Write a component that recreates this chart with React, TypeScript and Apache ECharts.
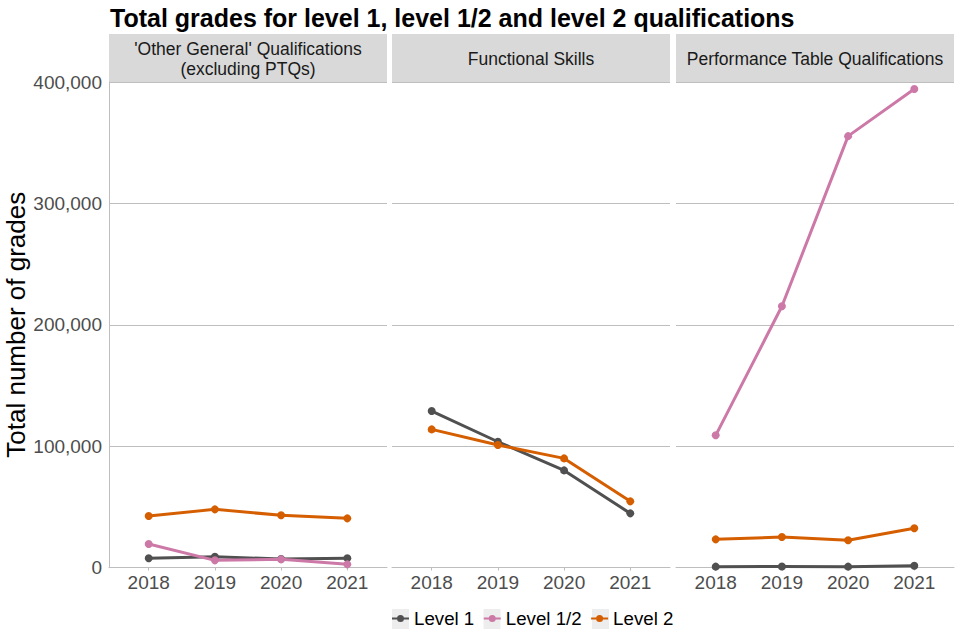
import React, { useEffect, useRef } from "react";
import * as echarts from "echarts";

const years = [2018, 2019, 2020, 2021];
const panelTitles = [
  "'Other General' Qualifications\n(excluding PTQs)",
  "Functional Skills",
  "Performance Table Qualifications",
];
const levelNames = ["Level 1", "Level 1/2", "Level 2"];
const levelColors = ["#505050", "#CC79A7", "#D55E00"];
const yTickStep = 100000;
const yMax = 400000;

const otherLevel1 = [7600, 8900, 7000, 7600];
const otherLevel12 = [19400, 5900, 6700, 2600];
const otherLevel2 = [42400, 47900, 43000, 40500];
const fsLevel1 = [128900, 103600, 80000, 44600];
const fsLevel2 = [113800, 100900, 89900, 54500];
const ptqLevel1 = [700, 800, 700, 1500];
const ptqLevel12 = [108900, 215200, 355400, 394200];
const ptqLevel2 = [23200, 25100, 22400, 32300];

const panelData: (number[] | null)[][] = [
  [otherLevel1, otherLevel12, otherLevel2],
  [fsLevel1, null, fsLevel2],
  [ptqLevel1, ptqLevel12, ptqLevel2],
];

const FONT = "'Liberation Sans', Arial, sans-serif";
const GRID = "#bebebe";

export default function App() {
  const ref = useRef<HTMLDivElement>(null);
  useEffect(() => {
    document.body.style.margin = "0";
    const chart = echarts.init(ref.current!, null, { renderer: "svg" });
    const panelLeft = [109, 392, 676];
    const panelWidth = 278;
    const top = 82;
    const height = 485.5;

    const grids = panelLeft.map((l) => ({ left: l, top, width: panelWidth, height }));
    const xAxes = panelLeft.map((_, i) => ({
      type: "value",
      gridIndex: i,
      min: 2017.4,
      max: 2021.6,
      axisLine: { show: true, lineStyle: { color: GRID, width: 1 } },
      axisTick: { show: true, customValues: years, length: 3, lineStyle: { color: GRID } },
      axisLabel: {
        customValues: years,
        formatter: (v: number) => String(v),
        fontSize: 19,
        color: "#4d4d4d",
        fontFamily: FONT,
        margin: 5,
      },
      splitLine: { show: false },
    }));
    const yAxes = panelLeft.map((_, i) => ({
      type: "value",
      gridIndex: i,
      min: 0,
      max: yMax,
      interval: yTickStep,
      name: i === 0 ? "Total number of grades" : "",
      nameLocation: "middle",
      nameRotate: 90,
      nameGap: 80,
      nameTextStyle: { fontSize: 26, color: "#000", fontFamily: FONT },
      axisLine: { show: i === 0, lineStyle: { color: GRID, width: 1 } },
      axisTick: { show: false },
      axisLabel: {
        show: i === 0,
        fontSize: 19,
        color: "#4d4d4d",
        fontFamily: FONT,
        margin: 7,
        formatter: (v: number) => v.toLocaleString("en-US"),
      },
      splitLine: { show: true, lineStyle: { color: GRID, width: 1 } },
    }));

    const series: any[] = [];
    panelData.forEach((levels, p) => {
      levels.forEach((vals, l) => {
        if (!vals) return;
        series.push({
          type: "line",
          name: levelNames[l],
          xAxisIndex: p,
          yAxisIndex: p,
          data: years.map((y, k) => [y, vals[k]]),
          symbol: "circle",
          symbolSize: 8,
          lineStyle: { width: 3, color: levelColors[l] },
          itemStyle: { color: levelColors[l] },
          z: 2 + l,
        });
      });
    });

    const strips: any[] = [];
    panelLeft.forEach((l, i) => {
      strips.push({
        type: "rect",
        shape: { x: l, y: 34, width: panelWidth, height: 48 },
        style: { fill: "#d9d9d9" },
        z: 0,
      });
      strips.push({
        type: "text",
        x: l + panelWidth / 2,
        y: 59,
        style: {
          text: panelTitles[i],
          fontSize: 17.5,
          fontFamily: FONT,
          fill: "#1a1a1a",
          textAlign: "center",
          textVerticalAlign: "middle",
          lineHeight: 20,
        },
        z: 1,
      });
    });
    const legendBgX = [392, 483.5, 592];
    legendBgX.forEach((x) => {
      strips.push({
        type: "rect",
        shape: { x, y: 609, width: 17, height: 20 },
        style: { fill: "#ededed" },
        z: 0,
      });
    });

    const icon =
      "path://M0,2.5h5.2v2h-5.2z M11.8,2.5h5.2v2h-5.2z M5,3.5a3.5,3.5 0 1,1 7,0a3.5,3.5 0 1,1 -7,0z";

    chart.setOption({
      animation: false,
      title: {
        text: "Total grades for level 1, level 1/2 and level 2 qualifications",
        left: 110,
        top: 5,
        padding: 0,
        textStyle: { fontSize: 25, fontWeight: "bold", color: "#000", fontFamily: FONT },
      },
      legend: {
        data: levelNames.map((n) => ({ name: n, icon })),
        left: 392,
        top: 609,
        padding: 0,
        itemWidth: 17,
        itemHeight: 7,
        itemGap: 9.5,
        textStyle: { fontSize: 18.7, color: "#000", fontFamily: FONT },
        z: 10,
      },
      graphic: strips,
      grid: grids,
      xAxis: xAxes,
      yAxis: yAxes,
      series,
    });
    return () => chart.dispose();
  }, []);
  return <div ref={ref} style={{ width: 960, height: 640 }} />;
}
